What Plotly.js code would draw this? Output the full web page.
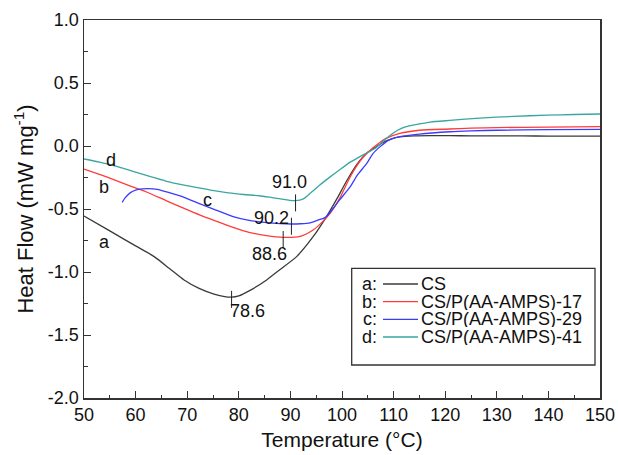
<!DOCTYPE html>
<html>
<head>
<meta charset="utf-8">
<script src="https://cdn.plot.ly/plotly-3.0.1.min.js"></script>
<style>html,body{margin:0;padding:0;background:#fff;}#chart{width:618px;height:455px;}</style>
</head>
<body>
<div id="chart"></div>
<script>
// ---- data ----
var tempA = [50, 55, 60, 63.6, 66.5, 69.4, 72.3, 75.2, 77, 78.6, 80, 82, 85.4, 88, 91.2, 94.4, 97, 99, 101, 103, 105, 106.7, 108, 109.5, 111.2, 114, 117, 120.9, 125, 130, 135, 140, 145, 150];
var flowA = [-0.556, -0.674, -0.793, -0.878, -0.97, -1.063, -1.13, -1.175, -1.193, -1.20, -1.19, -1.15, -1.063, -0.98, -0.878, -0.72, -0.56, -0.42, -0.27, -0.14, -0.05, -0.005, 0.03, 0.055, 0.072, 0.08, 0.082, 0.082, 0.081, 0.080, 0.080, 0.079, 0.079, 0.079];

var tempB = [50, 53, 56, 59, 62, 66, 69.4, 72.5, 75.2, 78.9, 82, 85.4, 88.6, 91.9, 94.4, 96, 97.7, 99.5, 101.6, 103.5, 105, 106.7, 108.5, 111.2, 115, 120.9, 125, 130, 140, 150];
var flowB = [-0.183, -0.225, -0.27, -0.318, -0.363, -0.435, -0.495, -0.548, -0.59, -0.645, -0.685, -0.712, -0.725, -0.717, -0.667, -0.61, -0.534, -0.42, -0.244, -0.12, -0.05, 0.008, 0.06, 0.10, 0.125, 0.135, 0.142, 0.146, 0.15, 0.153];

var tempC = [57.4, 58, 59, 60, 61.3, 62.5, 64.2, 66.5, 69.4, 72.5, 75.2, 78.9, 82, 85.4, 88, 90.2, 92, 93.8, 95.2, 96.4, 97, 98.2, 99.5, 101.6, 103, 104.8, 106, 107.4, 109, 111.2, 115, 120.9, 125, 130, 140, 150];
var flowC = [-0.447, -0.41, -0.37, -0.35, -0.341, -0.338, -0.344, -0.37, -0.407, -0.46, -0.503, -0.56, -0.59, -0.608, -0.616, -0.619, -0.617, -0.61, -0.59, -0.574, -0.56, -0.50, -0.43, -0.323, -0.23, -0.138, -0.06, -0.005, 0.045, 0.074, 0.095, 0.113, 0.12, 0.125, 0.13, 0.132];

var tempD = [50, 53, 56.5, 60, 62.9, 66, 69.4, 72.5, 75.2, 78, 81, 84, 86.5, 89, 91.0, 92.5, 94, 95.7, 97.7, 99.5, 101.6, 104, 106.4, 107.5, 108.6, 110, 111.5, 113, 115, 117.1, 120.9, 126.7, 133.2, 139.7, 145, 150];
var flowD = [-0.103, -0.128, -0.164, -0.207, -0.244, -0.28, -0.31, -0.335, -0.355, -0.372, -0.385, -0.395, -0.41, -0.425, -0.434, -0.42, -0.37, -0.31, -0.245, -0.19, -0.128, -0.072, -0.02, 0.02, 0.06, 0.105, 0.14, 0.16, 0.176, 0.19, 0.203, 0.222, 0.235, 0.245, 0.25, 0.254];

var curveLetters = ["a", "b", "c", "d"];
var seriesNames = ["CS", "CS/P(AA-AMPS)-17", "CS/P(AA-AMPS)-29", "CS/P(AA-AMPS)-41"];
var seriesColors = ["#3a3a3a", "#ff3b3b", "#3b3bff", "#3aa6a0"];

var peakTemps = [78.6, 88.6, 90.2, 91.0];
var peakFlows = [-1.20, -0.725, -0.619, -0.434];
var peakLabels = ["78.6", "88.6", "90.2", "91.0"];
var peakLabelT = [81.6, 86.0, 86.3, 89.8];
var peakLabelH = [-1.31, -0.855, -0.571, -0.287];

var letterT = [53.9, 53.9, 73.9, 55.2];
var letterH = [-0.76, -0.323, -0.429, -0.111];

var xTickVals = [50, 60, 70, 80, 90, 100, 110, 120, 130, 140, 150];
var yTickVals = [-2.0, -1.5, -1.0, -0.5, 0.0, 0.5, 1.0];

// ---- build ----
var temps = [tempA, tempB, tempC, tempD];
var flows = [flowA, flowB, flowC, flowD];
var FONT = "Liberation Sans, Arial, sans-serif";

var traces = temps.map(function (t, i) {
  return {
    x: t, y: flows[i], type: "scatter", mode: "lines",
    name: curveLetters[i] + ": " + seriesNames[i],
    line: {color: seriesColors[i], width: 1.3, shape: "spline", smoothing: 0.6},
    showlegend: false, hoverinfo: "skip"
  };
});

var annotations = [];
var shapes = [];

peakTemps.forEach(function (t, i) {
  shapes.push({type: "line", xref: "x", yref: "y", x0: t, x1: t,
    y0: peakFlows[i] + 0.05, y1: peakFlows[i] - 0.085,
    line: {color: "#222", width: 1}});
  annotations.push({x: peakLabelT[i], y: peakLabelH[i], xref: "x", yref: "y",
    text: peakLabels[i], showarrow: false, xanchor: "center", yanchor: "middle",
    font: {family: FONT, size: 18, color: "#111"}});
});

curveLetters.forEach(function (l, i) {
  annotations.push({x: letterT[i], y: letterH[i], xref: "x", yref: "y",
    text: l, showarrow: false, xanchor: "center", yanchor: "middle",
    font: {family: FONT, size: 18, color: "#111"}});
});

// legend drawn as box + sample lines + text
var legRowsPx = [284, 301.7, 319.3, 337];
var plotL = 84, plotR = 600, plotT = 20, plotB = 398;
function px2x(p) { return (p - plotL) / (plotR - plotL); }
function px2y(p) { return (plotB - p) / (plotB - plotT); }
shapes.push({type: "rect", xref: "paper", yref: "paper",
  x0: px2x(351.7), x1: px2x(595), y0: px2y(365), y1: px2y(268.3),
  line: {color: "#333", width: 1.3}, fillcolor: "rgba(255,255,255,0)"});
legRowsPx.forEach(function (ry, i) {
  shapes.push({type: "line", xref: "paper", yref: "paper",
    x0: px2x(383), x1: px2x(418), y0: px2y(ry), y1: px2y(ry),
    line: {color: seriesColors[i], width: 1.3}});
  annotations.push({x: px2x(378), y: px2y(ry), xref: "paper", yref: "paper",
    text: curveLetters[i] + ":", showarrow: false, xanchor: "right", yanchor: "middle",
    height: 16, valign: "middle",
    borderpad: 0, font: {family: FONT, size: 18, color: "#111"}});
  annotations.push({x: px2x(420), y: px2y(ry), xref: "paper", yref: "paper",
    text: seriesNames[i], showarrow: false, xanchor: "left", yanchor: "middle",
    height: 16, valign: "middle",
    borderpad: 0, font: {family: FONT, size: 18, color: "#111"}});
});

var axisCommon = {
  showgrid: false, zeroline: false, showline: true, linecolor: "#333", linewidth: 1.5,
  mirror: true, ticks: "inside", ticklen: 7, tickwidth: 1, tickcolor: "#333",
  tickfont: {family: FONT, size: 18, color: "#111"}
};

var layout = {
  width: 618, height: 455,
  margin: {l: 84, r: 18, t: 20, b: 57},
  paper_bgcolor: "#fff", plot_bgcolor: "#fff",
  showlegend: false,
  xaxis: Object.assign({}, axisCommon, {
    range: [50, 150], tickmode: "array", tickvals: xTickVals,
    ticktext: xTickVals.map(String),
    minor: {dtick: 5, tick0: 50, ticks: "inside", ticklen: 3.5, tickwidth: 1, tickcolor: "#333"},
    title: {text: "Temperature (°C)", font: {family: FONT, size: 21, color: "#111"}, standoff: 8}
  }),
  yaxis: Object.assign({}, axisCommon, {
    range: [-2, 1], tickmode: "array", tickvals: yTickVals,
    ticktext: yTickVals.map(function (v) { return v.toFixed(1); }),
    minor: {dtick: 0.25, tick0: 0, ticks: "inside", ticklen: 3.5, tickwidth: 1, tickcolor: "#333"},
    title: {text: "Heat Flow (mW mg<sup>-1</sup>)", font: {family: FONT, size: 22, color: "#111"}, standoff: 8}
  }),
  annotations: annotations,
  shapes: shapes
};

Plotly.newPlot("chart", traces, layout, {staticPlot: true, displayModeBar: false});
</script>
</body>
</html>
